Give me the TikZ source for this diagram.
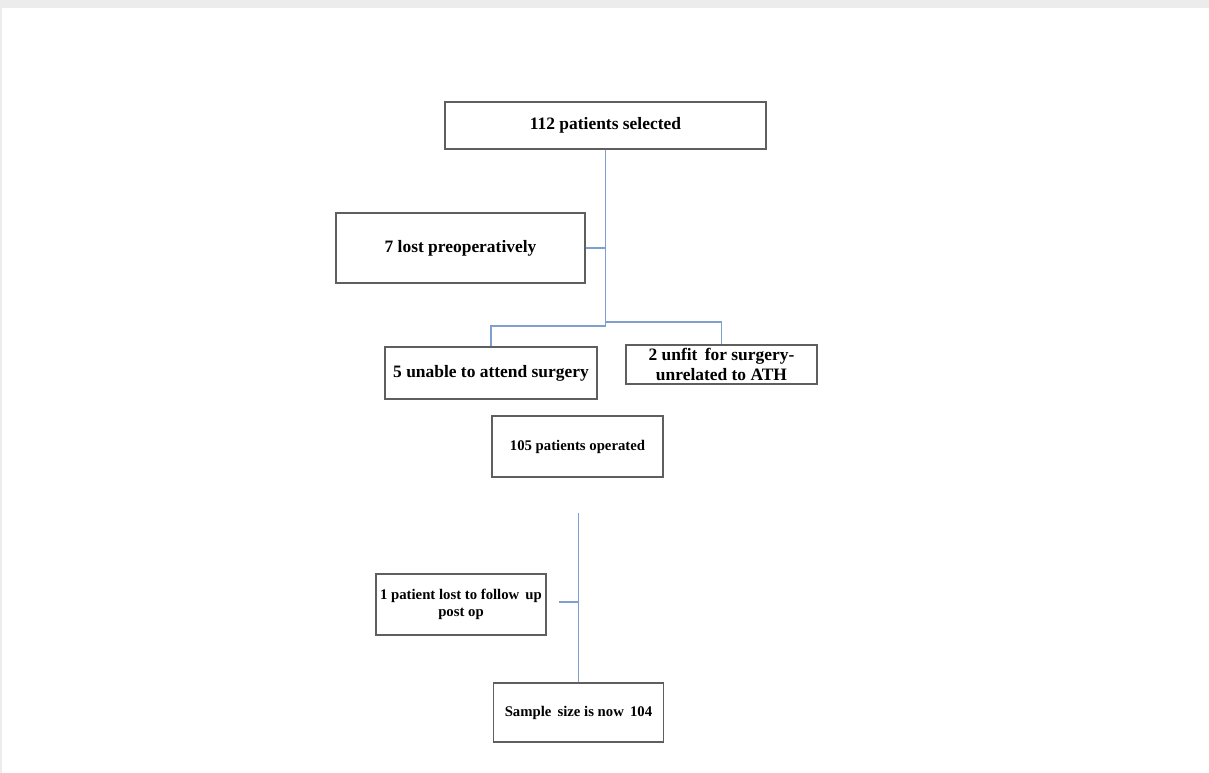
\documentclass[tikz,border=0pt]{standalone}
\usepackage{fontspec}
\setmainfont{Liberation Serif}
\definecolor{conn}{RGB}{125,160,205}
\definecolor{boxline}{RGB}{95,95,95}
\definecolor{band}{RGB}{236,236,236}
\begin{document}
\begin{tikzpicture}[x=1bp,y=-1bp,
  box/.style={draw=boxline,line width=1.2bp,rectangle,inner sep=0pt,align=center,font=\bfseries},
  big/.style={font=\fontsize{17.5}{20}\selectfont\bfseries},
  small/.style={font=\fontsize{14.8}{16.5}\selectfont\bfseries},
  link/.style={draw=conn,line width=1.1bp}]
\useasboundingbox (0,0) rectangle (1209,773);
\fill[white] (0,0) rectangle (1209,773);
\fill[band] (0,0) rectangle (1209,8);
\fill[band] (0,0) rectangle (2,773);

\node[box,big,minimum width=321bp,minimum height=47bp] (b1) at (605.5,125.5) {112 patients selected};
\node[box,big,minimum width=249bp,minimum height=70bp] (b2) at (460.5,248) {7 lost preoperatively};
\node[box,big,minimum width=212bp,minimum height=52bp] (b3) at (491,373) {5 unable to attend surgery};
\node[box,big,minimum width=191bp,minimum height=39bp] (b4) at (721.5,364.5) {2 unfit\, for surgery-\\unrelated to ATH};
\node[box,small,minimum width=171bp,minimum height=61bp] (b5) at (577.5,446.5) {105 patients operated};
\node[box,small,minimum width=170bp,minimum height=61bp] (b6) at (461,604.5) {1 patient lost to follow\, up\\post op};
\node[box,small,minimum width=170bp,minimum height=59bp] (b7) at (578.5,712.5) {Sample\, size is now\, 104};

\coordinate (j1) at (605.5,326);
\coordinate (j2) at (605.5,322);
\coordinate (t5) at (578.5,513);
\coordinate (s6) at (559,602);

\draw[link] (b1.south) -- (j1) -| (b3.north);
\draw[link] (j2) -| (b4.north);
\draw[link] (b2.east) -- (b2.east -| b1.south);
\draw[link] (t5) -- (b7.north);
\draw[link] (s6) -- (s6 -| t5);
\end{tikzpicture}
\end{document}
